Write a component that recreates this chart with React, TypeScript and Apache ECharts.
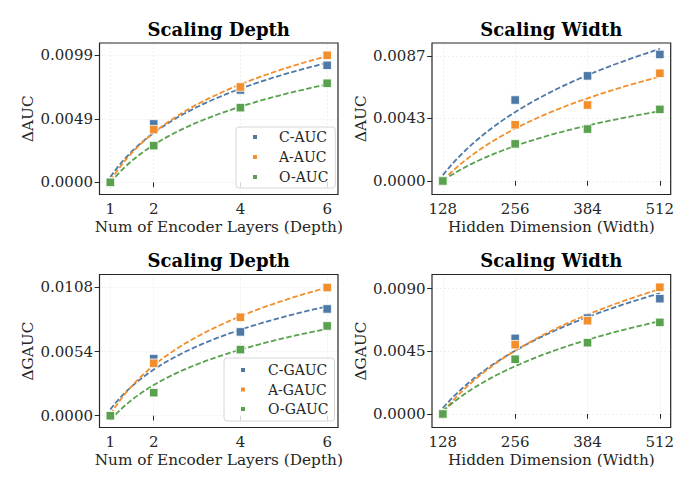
import React, { useEffect, useRef } from "react";
import * as echarts from "echarts";

// ---- data ----
const depthLayers = [1, 2, 4, 6];
const hiddenDims = [128, 256, 384, 512];

const aucDepthC = [0, 0.00455, 0.0072, 0.00912];
const aucDepthA = [0, 0.00411, 0.00743, 0.0099];
const aucDepthO = [0, 0.00286, 0.00582, 0.00772];

const aucWidthC = [0, 0.00563, 0.00731, 0.0088];
const aucWidthA = [0, 0.00391, 0.00528, 0.00749];
const aucWidthO = [0, 0.00258, 0.00361, 0.00498];

const gaucDepthC = [0, 0.0048, 0.00705, 0.00898];
const gaucDepthA = [0, 0.00441, 0.00828, 0.01078];
const gaucDepthO = [0, 0.00194, 0.00556, 0.00755];

const gaucWidthC = [0, 0.00543, 0.00689, 0.00828];
const gaucWidthA = [0, 0.00498, 0.0067, 0.0091];
const gaucWidthO = [0, 0.00393, 0.00512, 0.00658];

const aucDepthTicks = [0, 0.00495, 0.0099];
const aucDepthTickLabels = ["0.0000", "0.0049", "0.0099"];
const aucWidthTicks = [0, 0.00435, 0.0087];
const aucWidthTickLabels = ["0.0000", "0.0043", "0.0087"];
const gaucDepthTicks = [0, 0.0054, 0.0108];
const gaucDepthTickLabels = ["0.0000", "0.0054", "0.0108"];
const gaucWidthTicks = [0, 0.0045, 0.009];
const gaucWidthTickLabels = ["0.0000", "0.0045", "0.0090"];

const aucNames = ["C-AUC", "A-AUC", "O-AUC"];
const gaucNames = ["C-GAUC", "A-GAUC", "O-GAUC"];

// ---- styling ----
const FONT = "'DejaVu Serif', 'Liberation Serif', serif";
const COLORS = ["#4e79a7", "#f28e2b", "#59a14f"];
const INK = "#262626";

// least-squares fit of y = a * ln(x) + b
function logFit(xs: number[], ys: number[]) {
  const lx = xs.map((x) => Math.log(x));
  const n = xs.length;
  const mx = lx.reduce((s, v) => s + v, 0) / n;
  const my = ys.reduce((s, v) => s + v, 0) / n;
  let sxy = 0;
  let sxx = 0;
  for (let i = 0; i < n; i++) {
    sxy += (lx[i] - mx) * (ys[i] - my);
    sxx += (lx[i] - mx) * (lx[i] - mx);
  }
  const a = sxy / sxx;
  return { a, b: my - a * mx };
}

function fitCurve(xs: number[], ys: number[]) {
  const { a, b } = logFit(xs, ys);
  const lo = xs[0];
  const hi = xs[xs.length - 1];
  const pts: number[][] = [];
  const steps = 80;
  for (let i = 0; i <= steps; i++) {
    const x = lo + ((hi - lo) * i) / steps;
    pts.push([x, a * Math.log(x) + b]);
  }
  return pts;
}

type Panel = {
  grid: { left: number; top: number; width: number; height: number };
  xs: number[];
  xMin: number;
  xMax: number;
  yMin: number;
  yMax: number;
  yTicks: number[];
  yTickLabels: string[];
  names: string[];
  values: number[][];
  title: string;
  xName: string;
  yName: string;
  legend?: { left: number; top: number; padding: number[]; textPad: number; gap: number };
};

const panels: Panel[] = [
  {
    grid: { left: 99.5, top: 43, width: 238.5, height: 151.5 },
    xs: depthLayers,
    xMin: 0.75,
    xMax: 6.25,
    yMin: -0.00095,
    yMax: 0.01086,
    yTicks: aucDepthTicks,
    yTickLabels: aucDepthTickLabels,
    names: aucNames,
    values: [aucDepthC, aucDepthA, aucDepthO],
    title: "Scaling Depth",
    xName: "Num of Encoder Layers (Depth)",
    yName: "ΔAUC",
    legend: { left: 236, top: 127, padding: [3, 7, 4, 15], textPad: 16, gap: 6 },
  },
  {
    grid: { left: 432, top: 43, width: 238.7, height: 151.5 },
    xs: hiddenDims,
    xMin: 108.8,
    xMax: 531.2,
    yMin: -0.00094,
    yMax: 0.009595,
    yTicks: aucWidthTicks,
    yTickLabels: aucWidthTickLabels,
    names: aucNames,
    values: [aucWidthC, aucWidthA, aucWidthO],
    title: "Scaling Width",
    xName: "Hidden Dimension (Width)",
    yName: "ΔAUC",
  },
  {
    grid: { left: 99.5, top: 274.5, width: 238.5, height: 153 },
    xs: depthLayers,
    xMin: 0.75,
    xMax: 6.25,
    yMin: -0.00099,
    yMax: 0.011877,
    yTicks: gaucDepthTicks,
    yTickLabels: gaucDepthTickLabels,
    names: gaucNames,
    values: [gaucDepthC, gaucDepthA, gaucDepthO],
    title: "Scaling Depth",
    xName: "Num of Encoder Layers (Depth)",
    yName: "ΔGAUC",
    legend: { left: 224, top: 358, padding: [5, 6, 5, 15], textPad: 17, gap: 5.5 },
  },
  {
    grid: { left: 432, top: 274.5, width: 238.7, height: 153 },
    xs: hiddenDims,
    xMin: 108.8,
    xMax: 531.2,
    yMin: -0.00097,
    yMax: 0.010017,
    yTicks: gaucWidthTicks,
    yTickLabels: gaucWidthTickLabels,
    names: gaucNames,
    values: [gaucWidthC, gaucWidthA, gaucWidthO],
    title: "Scaling Width",
    xName: "Hidden Dimension (Width)",
    yName: "ΔGAUC",
  },
];

function labelFor(ticks: number[], labels: string[], v: number) {
  let best = 0;
  for (let i = 1; i < ticks.length; i++) {
    if (Math.abs(ticks[i] - v) < Math.abs(ticks[best] - v)) best = i;
  }
  return labels[best];
}

function buildOption() {
  const grid: any[] = [];
  const xAxis: any[] = [];
  const yAxis: any[] = [];
  const series: any[] = [];
  const legend: any[] = [];
  const graphic: any[] = [];

  const splitLine = {
    show: true,
    lineStyle: { color: "#ebebeb", width: 0.8, type: [2, 2] },
  };
  const tick = { show: true, inside: false, length: 4.8, lineStyle: { color: INK, width: 1 } };

  panels.forEach((p, gi) => {
    grid.push({
      ...p.grid,
      show: true,
      borderColor: INK,
      borderWidth: 1.2,
      backgroundColor: "transparent",
      z: 5,
    });

    xAxis.push({
      type: "value",
      gridIndex: gi,
      min: p.xMin,
      max: p.xMax,
      axisLine: { show: false },
      axisTick: { ...tick, customValues: p.xs },
      axisLabel: {
        customValues: p.xs,
        margin: 7,
        fontFamily: FONT,
        fontSize: 15,
        color: INK,
        formatter: (v: number) => String(Math.round(v)),
      },
      splitLine,
      name: p.xName,
      nameLocation: "middle",
      nameGap: 25,
      nameTextStyle: { fontFamily: FONT, fontSize: 15.3, color: INK },
    });

    yAxis.push({
      type: "value",
      gridIndex: gi,
      min: p.yMin,
      max: p.yMax,
      axisLine: { show: false },
      axisTick: { ...tick, customValues: p.yTicks },
      axisLabel: {
        customValues: p.yTicks,
        margin: 6.5,
        fontFamily: FONT,
        fontSize: 15,
        color: INK,
        formatter: (v: number) => labelFor(p.yTicks, p.yTickLabels, v),
      },
      splitLine,
      name: p.yName,
      nameLocation: "middle",
      nameGap: 64,
      nameTextStyle: { fontFamily: FONT, fontSize: 15.3, color: INK },
    });

    // dashed logarithmic trend lines
    p.values.forEach((vals, si) => {
      series.push({
        type: "line",
        name: p.names[si] + " fit",
        xAxisIndex: gi,
        yAxisIndex: gi,
        data: fitCurve(p.xs, vals),
        showSymbol: false,
        symbol: "none",
        smooth: false,
        lineStyle: { color: COLORS[si], width: 1.8, type: [5.5, 2.4] },
        z: 2,
        silent: true,
      });
    });

    // measured points
    p.values.forEach((vals, si) => {
      series.push({
        type: "scatter",
        name: p.names[si],
        xAxisIndex: gi,
        yAxisIndex: gi,
        data: p.xs.map((x, i) => [x, vals[i]]),
        symbol: "rect",
        symbolSize: 8.5,
        itemStyle: { color: COLORS[si], borderColor: "#ffffff", borderWidth: 0.8, opacity: 1 },
        z: 3 + si,
      });
    });

    if (p.legend) {
      legend.push({
        data: p.names,
        orient: "vertical",
        left: p.legend.left,
        top: p.legend.top,
        padding: p.legend.padding,
        itemGap: p.legend.gap,
        icon: "rect",
        itemWidth: 6,
        itemHeight: 6,
        selectedMode: false,
        backgroundColor: "rgba(255,255,255,0.8)",
        borderColor: "#d6d6d6",
        borderWidth: 1,
        borderRadius: 3,
        textStyle: {
          fontFamily: FONT,
          fontSize: 14,
          color: INK,
          padding: [0, 0, 0, p.legend.textPad],
        },
        z: 10,
      });
    }

    graphic.push({
      type: "text",
      x: p.grid.left + p.grid.width / 2,
      y: p.grid.top - 14,
      style: {
        text: p.title,
        fill: "#000",
        font: `bold 18px ${FONT}`,
        align: "center",
        verticalAlign: "middle",
      },
    });
  });

  return {
    animation: false,
    backgroundColor: "#ffffff",
    grid,
    xAxis,
    yAxis,
    series,
    legend,
    graphic,
  };
}

export default function App() {
  const ref = useRef<HTMLDivElement>(null);

  useEffect(() => {
    if (!ref.current) return;
    const chart = echarts.init(ref.current, undefined, { renderer: "svg" });
    chart.setOption(buildOption() as any);
    return () => chart.dispose();
  }, []);

  return (
    <div
      ref={ref}
      style={{ position: "absolute", left: 0, top: 0, width: 696, height: 489 }}
    />
  );
}
